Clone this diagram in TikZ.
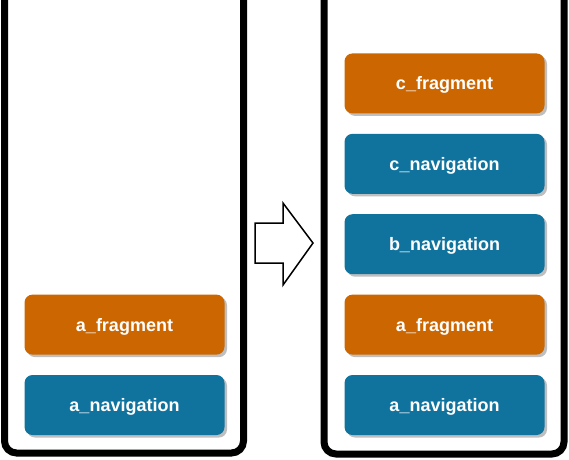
\documentclass[tikz,border=0pt]{standalone}
\usepackage{fontspec}
\newfontfamily\fontetichetta{Liberation Sans}[Scale=1.0]
\usetikzlibrary{positioning,shadows}
\definecolor{arancio}{HTML}{CC6600}
\definecolor{blu}{HTML}{10739E}
\tikzset{
  blocco/.style={rounded corners=8pt, minimum width=200pt, minimum height=60pt, inner sep=0pt,
    text=white, font=\fontetichetta\bfseries\fontsize{18}{21}\selectfont,
    text height=13pt, text depth=0pt,
    drop shadow={shadow xshift=2.5pt, shadow yshift=-2.5pt, fill=black!25, opacity=1}},
  frammento/.style={blocco, fill=arancio},
  navigazione/.style={blocco, fill=blu},
  pila/.style={line width=7pt, rounded corners=12pt}
}
\begin{document}
\begin{tikzpicture}[x=1pt, y=-1pt, node distance=20pt]
    \useasboundingbox (0,0) rectangle (569,459);
    \draw[pila] (4.5,0) -- (4.5,453) -- (243.5,453) -- (243.5,0); % pila di sinistra
    \draw[pila] (324,0) -- (324,454) -- (564,454) -- (564,0); % pila di destra
    \node[navigazione] (anavsx) at (124.5,405) {a\_navigation}; % stato iniziale
    \node[frammento, above=of anavsx] (afragsx) {a\_fragment};
    \node[navigazione] (anavdx) at (444.5,405) {a\_navigation}; % stato finale
    \node[frammento, above=of anavdx] (afragdx) {a\_fragment};
    \node[navigazione, above=of afragdx] (bnavdx) {b\_navigation};
    \node[navigazione, above=of bnavdx] (cnavdx) {c\_navigation};
    \node[frammento, above=of cnavdx] (cfragdx) {c\_fragment};
    \draw[line width=1.5pt, fill=white, line join=miter] (255,223) -- (283,223) -- (283,203) -- (313,243)
        -- (283,285) -- (283,263) -- (255,263) -- cycle; % freccia di passaggio
\end{tikzpicture}
\end{document}
